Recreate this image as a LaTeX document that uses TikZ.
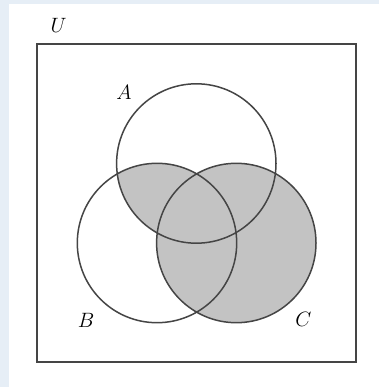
\documentclass[tikz,border=0pt]{standalone}
\definecolor{bgblue}{HTML}{E6EEF6}
\definecolor{fillgray}{HTML}{C3C3C3}
\definecolor{ink}{HTML}{454545}
\begin{document}
\begin{tikzpicture}[x=1pt,y=-1pt,
  setline/.style={draw=ink,line width=1.5pt},
  lbl/.style={inner sep=0pt,font=\fontsize{20}{24}\selectfont}]
\fill[bgblue] (0,0) rectangle (379,387);
\fill[white] (9,4) rectangle (379,387);
\useasboundingbox (0,0) rectangle (379,387);
\coordinate (ca) at (196.3,163.5);
\coordinate (cb) at (157,243);
\coordinate (cc) at (236.3,243);
\fill[fillgray] (cc) circle[radius=79.7];
\begin{scope}
  \clip (ca) circle[radius=79.7];
  \fill[fillgray] (cb) circle[radius=79.7];
\end{scope}
\draw[setline] (37,44) rectangle (356,362);
\draw[setline] (ca) circle[radius=79.7];
\draw[setline] (cb) circle[radius=79.7];
\draw[setline] (cc) circle[radius=79.7];
\node[lbl] (u) at (58.5,25.5) {$U$};
\node[lbl] (a) at (124,92.3) {$A$};
\node[lbl] (b) at (86,320) {$B$};
\node[lbl] (c) at (303.3,319.8) {$C$};
\end{tikzpicture}
\end{document}
